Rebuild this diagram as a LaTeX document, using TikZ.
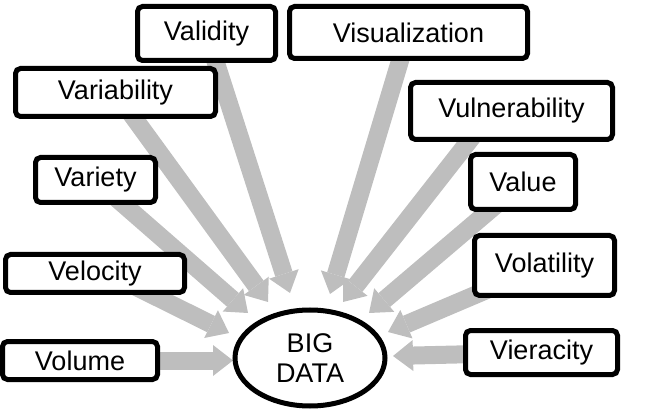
\documentclass[tikz,border=0pt]{standalone}
\usepackage{fontspec}
\setmainfont{Liberation Sans}
\usetikzlibrary{arrows.meta,backgrounds,shapes.geometric}
\definecolor{arrowgray}{RGB}{190,190,190}

\begin{document}
\begin{tikzpicture}[x=1pt,y=-1pt,font=\fontsize{27}{30}\selectfont,
    box/.style={rectangle,draw,rounded corners=5pt,line width=5pt,fill=white,inner sep=0pt},
    fat/.style={arrowgray,line width=18pt,-{Triangle[length=20pt,width=31pt,line width=0pt]}}]
    \useasboundingbox (0,0) rectangle (651,414);
    \node[ellipse,draw,line width=5pt,fill=white,align=center] (bigdata) [minimum width=150pt,minimum height=96pt] at (310,358) {BIG\\DATA};
    \node[box] (volume) [minimum width=155pt,minimum height=38pt] at (80,360.5) {Volume};
    \node[box] (velocity) [minimum width=179pt,minimum height=38pt] at (95,273.5) {Velocity};
    \node[box] (variety) [minimum width=120pt,minimum height=45pt] at (95.5,180) {Variety};
    \node[box] (variability) [minimum width=200pt,minimum height=48pt] at (115.5,92.5) {Variability};
    \node[box] (validity) [minimum width=138pt,minimum height=54pt] at (206.5,33.5) {Validity};
    \node[box] (visualization) [minimum width=238pt,minimum height=52pt] at (408.5,32.5) {Visualization};
    \node[box] (vulnerability) [minimum width=202pt,minimum height=57pt] at (511.5,111) {Vulnerability};
    \node[box] (value) [minimum width=105pt,minimum height=55pt] at (523,182) {Value};
    \node[box] (volatility) [minimum width=140pt,minimum height=60pt] at (544.5,265.5) {Volatility};
    \node[box] (vieracity) [minimum width=152pt,minimum height=44pt] at (541.5,352.5) {Vieracity};
    % arrow tips round BIG DATA
    \coordinate (tvolume) at (233,360.5);
    \coordinate (tvelocity) at (229,333);
    \coordinate (tvariety) at (248,313);
    \coordinate (tvariability) at (268,302);
    \coordinate (tvalidity) at (290,293);
    \coordinate (tvisualization) at (330,294);
    \coordinate (tvulnerability) at (343,302);
    \coordinate (tvalue) at (369,313);
    \coordinate (tvolatility) at (388,332);
    \coordinate (tvieracity) at (393,356);
    \begin{scope}[on background layer]
    \path[fat]
    (volume.center) edge (tvolume)
    ([shift={(21,3.5)}]velocity.center) edge (tvelocity)
    (variety.center) edge (tvariety)
    (variability.center) edge (tvariability)
    (validity.center) edge (tvalidity)
    (visualization.center) edge (tvisualization)
    ([shift={(-31.5,16)}]vulnerability.center) edge (tvulnerability)
    (value.center) edge (tvalue)
    (volatility.center) edge (tvolatility)
    (vieracity.center) edge (tvieracity);
    \end{scope}
\end{tikzpicture}
\end{document}
